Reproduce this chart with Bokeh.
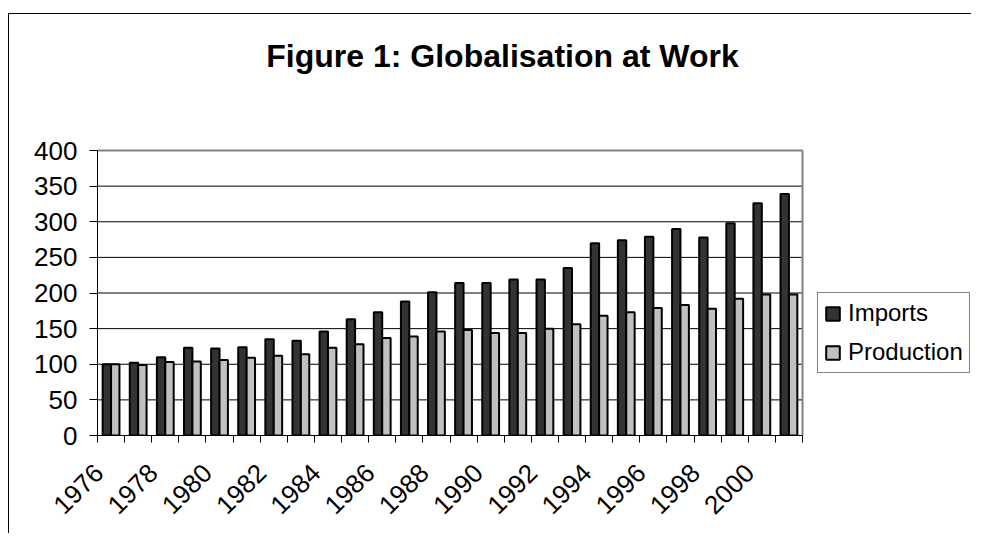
from bokeh.plotting import figure
from bokeh.models import (ColumnDataSource, FixedTicker, Range1d, Legend, LegendItem,
                          CustomJSTickFormatter, Label)
from bokeh.transform import dodge
from bokeh.embed import file_html
from bokeh.resources import INLINE

years = list(range(1976, 2002))
imports = [100, 102, 110, 123, 122, 124, 135, 133, 146, 163, 173, 188, 201,
           214, 214, 219, 219, 235, 270, 274, 279, 290, 278, 298, 326, 339]
production = [100, 99, 103, 104, 106, 109, 112, 114, 123, 128, 137, 139, 146,
              148, 144, 144, 150, 156, 168, 173, 179, 183, 178, 192, 198, 198]
label_years = [y for y in years if y % 2 == 0]
y_ticks = [0, 50, 100, 150, 200, 250, 300, 350, 400]
title_text = "Figure 1: Globalisation at Work"

src = ColumnDataSource(dict(year=years, imports=imports, production=production))

FONT = "Liberation Sans"
LABEL_SHIFT = 0.45

# layout in pixels
W, H = 963, 520
LEFT, BOTTOM = 88, 99
frame_w = W - LEFT
frame_h = H - BOTTOM
plot_w_px = 705.0      # width of the plotted category area
plot_h_px = 285.0      # height for 0..400
x0 = years[0] - 0.5
x1 = years[-1] + 0.5
unit_x = plot_w_px / (x1 - x0)
unit_y = plot_h_px / y_ticks[-1]

p = figure(width=W, height=H, output_backend="svg", toolbar_location=None,
           x_range=Range1d(x0, x0 + frame_w / unit_x),
           y_range=Range1d(0, frame_h / unit_y),
           min_border_left=LEFT, min_border_right=0, min_border_top=0, min_border_bottom=BOTTOM,
           styles={"border-left": "1px solid black", "border-top": "1px solid black",
                   "margin-top": "13px", "margin-left": "8px"})
p.outline_line_color = None
p.xgrid.grid_line_color = None
p.ygrid.grid_line_color = None

# grid lines limited to the plot area
p.segment(x0=[x0] * len(y_ticks), x1=[x1] * len(y_ticks), y0=y_ticks, y1=y_ticks,
          line_color="black", line_width=1)

r1 = p.vbar(x=dodge("year", -0.155), top="imports", width=0.31, source=src,
            fill_color="#333333", line_color="black", line_width=2)
r2 = p.vbar(x=dodge("year", 0.155), top="production", width=0.31, source=src,
            fill_color="#c0c0c0", line_color="black", line_width=2)

# plot area border (top and right, grey)
p.segment(x0=[x0, x1], x1=[x1, x1], y0=[y_ticks[-1], 0], y1=[y_ticks[-1], y_ticks[-1]],
          line_color="#808080", line_width=2)

# x axis
boundaries = [y - 0.5 for y in years] + [years[-1] + 0.5]
p.xaxis.bounds = (x0, x1)
p.xaxis.ticker = FixedTicker(ticks=[y - LABEL_SHIFT for y in label_years], minor_ticks=boundaries)
p.xaxis.formatter = CustomJSTickFormatter(code="return Math.round(tick + %s).toString();" % LABEL_SHIFT)
p.xaxis.major_tick_line_color = None
p.xaxis.major_tick_out = 0
p.xaxis.minor_tick_out = 7
p.xaxis.minor_tick_in = 0
p.xaxis.minor_tick_line_color = "black"
p.xaxis.axis_line_color = "black"
p.xaxis.major_label_orientation = 0.785398
p.xaxis.major_label_text_font = FONT
p.xaxis.major_label_text_font_size = "26px"
p.xaxis.major_label_text_color = "black"
p.xaxis.major_label_standoff = 26

# y axis
p.yaxis.bounds = (0, y_ticks[-1])
p.yaxis.ticker = FixedTicker(ticks=y_ticks)
p.yaxis.minor_tick_line_color = None
p.yaxis.major_tick_out = 8
p.yaxis.major_tick_in = 0
p.yaxis.axis_line_color = "black"
p.yaxis.major_label_text_font = FONT
p.yaxis.major_label_text_font_size = "26px"
p.yaxis.major_label_text_color = "black"
p.yaxis.major_label_standoff = 12

# title
title = Label(x=405, y=380, x_units="screen", y_units="screen", text=title_text,
              text_font=FONT, text_font_size="32px", text_font_style="bold",
              text_color="black", text_align="center", text_baseline="alphabetic")
p.add_layout(title)

legend = Legend(items=[LegendItem(label="Imports", renderers=[r1]),
                       LegendItem(label="Production", renderers=[r2])],
                location=(720, 62))
legend.label_text_font = FONT
legend.label_text_font_size = "24px"
legend.label_text_color = "black"
legend.glyph_width = 17
legend.glyph_height = 17
legend.label_standoff = 7
legend.spacing = 11
legend.padding = 6
legend.margin = 0
legend.border_line_color = "black"
legend.border_line_width = 1
legend.background_fill_alpha = 1
p.add_layout(legend, "center")

open("out.html", "w").write(file_html(p, INLINE))
